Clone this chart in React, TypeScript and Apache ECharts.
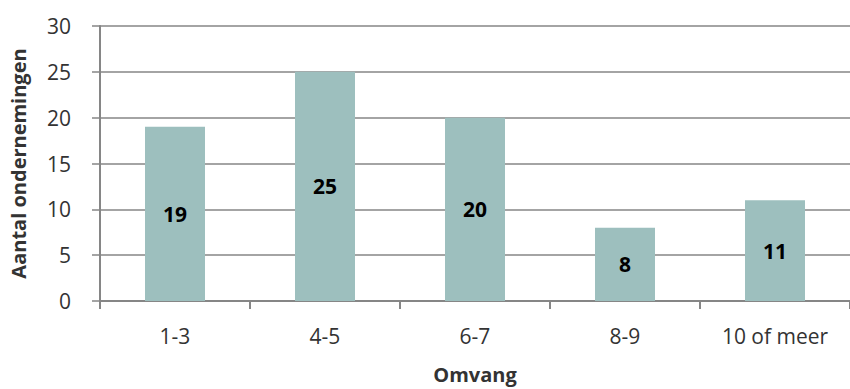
import React, { useEffect, useRef } from "react";
import * as echarts from "echarts";

const categories = ["1-3", "4-5", "6-7", "8-9", "10 of meer"];
const values = [19, 25, 20, 8, 11];
const yMin = 0;
const yMax = 30;
const yStep = 5;

const FONT = "'Open Sans', Lato, sans-serif";
const AXIS_GRAY = "#868686";
const TEXT = "#333";

export default function App() {
  const ref = useRef<HTMLDivElement>(null);

  useEffect(() => {
    if (!ref.current) return;
    const chart = echarts.init(ref.current, null, { renderer: "svg" });
    chart.setOption({
      animation: false,
      backgroundColor: "#ffffff",
      textStyle: { fontFamily: FONT },
      grid: { left: 93, top: 26, bottom: 84, width: 765, containLabel: false },
      xAxis: {
        type: "category",
        data: categories,
        name: "Omvang",
        nameLocation: "middle",
        nameGap: 63,
        nameTextStyle: { fontFamily: FONT, fontSize: 20, fontWeight: "bold", color: TEXT },
        axisLine: { lineStyle: { color: AXIS_GRAY, width: 2 } },
        axisTick: { show: true, alignWithLabel: false, length: 8, lineStyle: { color: AXIS_GRAY, width: 2 } },
        axisLabel: { fontFamily: FONT, fontSize: 21, color: TEXT, margin: 24 },
      },
      yAxis: {
        type: "value",
        min: yMin,
        max: yMax,
        interval: yStep,
        name: "Aantal ondernemingen",
        nameLocation: "middle",
        nameGap: 72,
        nameTextStyle: { fontFamily: FONT, fontSize: 20, fontWeight: "bold", color: TEXT },
        axisLine: { show: true, lineStyle: { color: AXIS_GRAY, width: 2 } },
        axisTick: { show: true, length: 8, lineStyle: { color: AXIS_GRAY, width: 1.5 } },
        axisLabel: { fontFamily: FONT, fontSize: 21, color: TEXT, margin: 29 },
        splitLine: { show: true, lineStyle: { color: AXIS_GRAY, width: 1.5 } },
      },
      series: [
        {
          type: "bar",
          data: values,
          barWidth: "40%",
          itemStyle: { color: "#9dbfbe" },
          label: {
            show: true,
            position: "inside",
            fontFamily: FONT,
            fontSize: 21,
            fontWeight: "bold",
            color: "#000",
          },
        },
      ],
    });
    return () => chart.dispose();
  }, []);

  return (
    <div
      ref={ref}
      style={{ position: "fixed", left: 0, top: 0, width: 850, height: 389, background: "#fff" }}
    />
  );
}
